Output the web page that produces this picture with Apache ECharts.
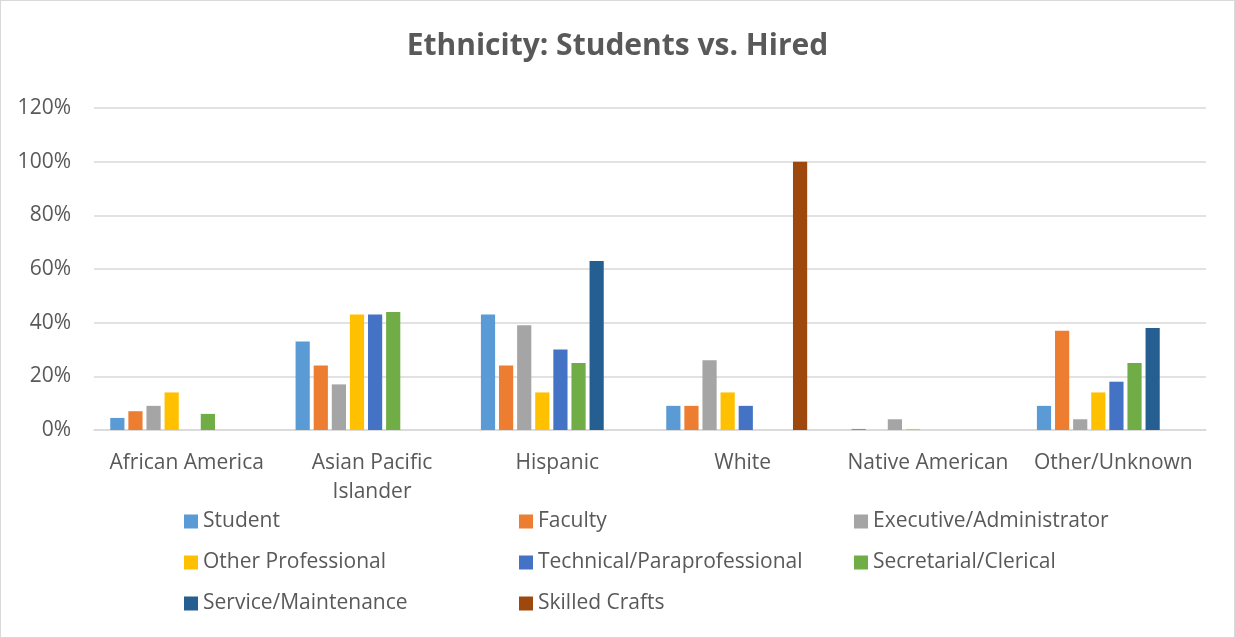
<!DOCTYPE html>
<html>
<head>
<meta charset="utf-8">
<script src="https://cdn.jsdelivr.net/npm/echarts@6/dist/echarts.min.js"></script>
<style>
html,body{margin:0;padding:0;background:#fff;}
#frame{position:absolute;left:0;top:0;width:1233px;height:636px;border:1px solid #d9d9d9;}
#chart{width:1235px;height:638px;position:absolute;left:0;top:0;}
</style>
</head>
<body>
<div id="frame"></div>
<div id="chart"></div>
<script>
const categories = ['African America', 'Asian Pacific\nIslander', 'Hispanic', 'White', 'Native American', 'Other/Unknown'];
const seriesNames = ['Student', 'Faculty', 'Executive/Administrator', 'Other Professional', 'Technical/Paraprofessional', 'Secretarial/Clerical', 'Service/Maintenance', 'Skilled Crafts'];
const student      = [4.5, 33, 43, 9, 0.4, 9];
const faculty      = [7, 24, 24, 9, 0, 37];
const executive    = [9, 17, 39, 26, 4, 4];
const otherProf    = [14, 43, 14, 14, 0.4, 14];
const technical    = [0, 43, 30, 9, 0, 18];
const secretarial  = [6, 44, 25, 0, 0, 25];
const service      = [0, 0, 63, 0, 0, 38];
const skilled      = [0, 0, 0, 100, 0, 0];
const yTicks = [0, 20, 40, 60, 80, 100, 120];
const colors = ['#5B9BD5', '#ED7D31', '#A5A5A5', '#FFC000', '#4472C4', '#70AD47', '#255E91', '#9E480E'];

const values = [student, faculty, executive, otherProf, technical, secretarial, service, skilled];
const textColor = '#595959';
const font = 'Open Sans';

const series = values.map((d, i) => ({
  name: seriesNames[i],
  type: 'bar',
  data: d.map(v => v === 0 ? null : v),
  barWidth: 14.2,
  barGap: '27.5%',
  itemStyle: { color: colors[i] }
}));
// empty spacer series (no data) to reproduce the group's offset inside each category
series.push({ name: 'spacer', type: 'bar', data: categories.map(() => null), barWidth: 8, barGap: '27.5%', silent: true });

const chart = echarts.init(document.getElementById('chart'), null, { renderer: 'canvas' });
chart.setOption({
  animation: false,
  backgroundColor: 'transparent',
  color: colors,
  title: {
    text: 'Ethnicity: Students vs. Hired',
    left: 'center',
    top: 26,
    textStyle: { fontFamily: font, fontWeight: 'bold', fontSize: 30, color: textColor }
  },
  legend: {
    data: seriesNames,
    left: 184,
    top: 508,
    padding: 0,
    width: 1040,
    itemWidth: 14,
    itemHeight: 14,
    itemGap: 14,
    icon: 'rect',
    textStyle: { fontFamily: font, fontSize: 21, color: textColor, width: 302, lineHeight: 27 }
  },
  grid: { left: 94, right: 29, top: 108, bottom: 208, containLabel: false },
  xAxis: {
    type: 'category',
    data: categories,
    axisLine: { lineStyle: { color: '#d9d9d9', width: 1.5 } },
    axisTick: { show: false },
    axisLabel: { interval: 0, color: textColor, fontFamily: font, fontSize: 21, lineHeight: 29, margin: 19 }
  },
  yAxis: {
    type: 'value',
    min: yTicks[0],
    max: yTicks[yTicks.length - 1],
    interval: 20,
    axisLine: { show: false },
    axisTick: { show: false },
    splitLine: { lineStyle: { color: '#d9d9d9', width: 1.5 } },
    axisLabel: { formatter: '{value}%', color: textColor, fontFamily: font, fontSize: 21, margin: 23 }
  },
  series: series
});
</script>
</body>
</html>
